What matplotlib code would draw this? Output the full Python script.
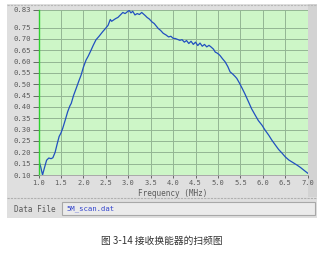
import matplotlib
matplotlib.use('Agg')
import matplotlib.pyplot as plt
from matplotlib.patches import Rectangle

# sweep data (MHz, amplitude)
freq = [1.00, 1.05, 1.09, 1.13, 1.18, 1.23, 1.28, 1.32, 1.37, 1.42, 1.46, 1.50,
        1.54, 1.60, 1.65, 1.70, 1.73, 1.78, 1.84, 1.90, 1.95, 2.00, 2.06, 2.11,
        2.17, 2.22, 2.28, 2.35, 2.43, 2.50, 2.55, 2.60, 2.63, 2.66, 2.72, 2.77,
        2.82, 2.88, 2.93, 2.98, 3.02, 3.06, 3.10, 3.15, 3.20, 3.25, 3.30, 3.34,
        3.38, 3.42, 3.47, 3.53, 3.58, 3.62, 3.67, 3.72, 3.78, 3.84, 3.90, 3.95,
        4.00, 4.05, 4.10, 4.15, 4.20, 4.25, 4.30, 4.35, 4.40, 4.45, 4.50, 4.55,
        4.60, 4.65, 4.70, 4.75, 4.80, 4.85, 4.90, 4.94, 4.98, 5.02, 5.05, 5.10,
        5.16, 5.22, 5.27, 5.33, 5.38, 5.42, 5.48, 5.54, 5.60, 5.68, 5.75, 5.83,
        5.90, 5.98, 6.05, 6.13, 6.20, 6.28, 6.35, 6.43, 6.50, 6.58, 6.67, 6.76,
        6.84, 6.91, 7.00]
amp = [0.170, 0.135, 0.100, 0.130, 0.165, 0.175, 0.172, 0.176, 0.200, 0.240, 0.270, 0.285,
       0.306, 0.345, 0.379, 0.405, 0.416, 0.450, 0.482, 0.515, 0.541, 0.575, 0.607, 0.625,
       0.650, 0.672, 0.696, 0.712, 0.732, 0.748, 0.760, 0.786, 0.778, 0.782, 0.790, 0.795,
       0.805, 0.817, 0.812, 0.820, 0.826, 0.815, 0.822, 0.806, 0.812, 0.808, 0.817, 0.810,
       0.803, 0.795, 0.788, 0.775, 0.768, 0.758, 0.746, 0.738, 0.725, 0.718, 0.709, 0.712,
       0.703, 0.702, 0.698, 0.694, 0.697, 0.686, 0.693, 0.680, 0.690, 0.676, 0.686, 0.671,
       0.682, 0.668, 0.676, 0.665, 0.672, 0.664, 0.655, 0.642, 0.638, 0.632, 0.626, 0.613,
       0.599, 0.578, 0.555, 0.545, 0.535, 0.526, 0.505, 0.482, 0.458, 0.423, 0.392, 0.364,
       0.340, 0.320, 0.298, 0.276, 0.254, 0.232, 0.213, 0.196, 0.180, 0.166, 0.155, 0.144,
       0.133, 0.122, 0.108]

yticks = [0.10, 0.15, 0.20, 0.25, 0.30, 0.35, 0.40, 0.45, 0.50, 0.55, 0.60, 0.65, 0.70, 0.75, 0.83]
xticks = [1.0, 1.5, 2.0, 2.5, 3.0, 3.5, 4.0, 4.5, 5.0, 5.5, 6.0, 6.5, 7.0]

W, H = 324, 257
MONO = 'DejaVu Sans Mono'
TXT = '#5a5a5a'

fig = plt.figure(figsize=(W / 100, H / 100), dpi=100)
fig.patch.set_facecolor('white')

# panel background in pixel coords
bg = fig.add_axes([0, 0, 1, 1], zorder=0)
bg.set_xlim(0, W)
bg.set_ylim(H, 0)
bg.axis('off')
bg.add_patch(Rectangle((7, 4), 310, 214, facecolor='#dfdfdf', edgecolor='none'))
bg.add_patch(Rectangle((308, 4), 9, 193, facecolor='#d3d3d3', edgecolor='none'))
bg.plot([7, 317], [4.5, 4.5], color='#b8b8b8', lw=0.8, ls=(0, (2, 1)))
bg.plot([7, 317], [197.5, 197.5], color='#b0b0b0', lw=0.8, ls=(0, (2, 1)))
bg.text(14, 209, 'Data File', family=MONO, fontsize=5.5, color=TXT, va='center')
bg.add_patch(Rectangle((62, 202), 253, 13, facecolor='#ebebeb', edgecolor='#a8a8a8', lw=0.8))
bg.text(66, 208.5, '5M_scan.dat', family=MONO, fontsize=5.2, color='#3344cc', va='center')
bg.text(W / 2, 241, '图 3-14 接收换能器的扫频图', family=['Noto Sans CJK SC', 'DejaVu Sans'],
        fontsize=7, color='#333333', ha='center', va='center')

# plot area
x0, y0, x1, y1 = 38.5, 9.5, 307.7, 175
ax = fig.add_axes([x0 / W, 1 - y1 / H, (x1 - x0) / W, (y1 - y0) / H], zorder=1)
ax.set_facecolor('#cdf6c7')
ax.plot(freq, amp, color='#2150c0', lw=0.9)
ax.set_xlim(1.0, 7.0)
ax.set_ylim(0.10, 0.83)
ax.set_xticks(xticks)
ax.set_yticks(yticks)
ax.set_xticklabels([f'{v:.1f}' for v in xticks], family=MONO, fontsize=5, color=TXT)
ax.set_yticklabels([f'{v:.2f}' for v in yticks], family=MONO, fontsize=5.2, color=TXT)
ax.grid(True, color='#93b593', lw=0.7)
ax.tick_params(axis='y', length=4, width=0.7, color='#666666', pad=1.5)
ax.tick_params(axis='x', length=2.5, width=0.7, color='#666666', pad=1)
ax.set_xlabel('Frequency (MHz)', family=MONO, fontsize=5.5, color=TXT, labelpad=2)
for s in ('top', 'right'):
    ax.spines[s].set_visible(False)
ax.spines['left'].set_color('#2fd02f')
ax.spines['left'].set_linewidth(1.0)
ax.spines['bottom'].set_color('#a0a0a0')
ax.spines['bottom'].set_linewidth(0.6)

fig.savefig('out.png', dpi=100)
